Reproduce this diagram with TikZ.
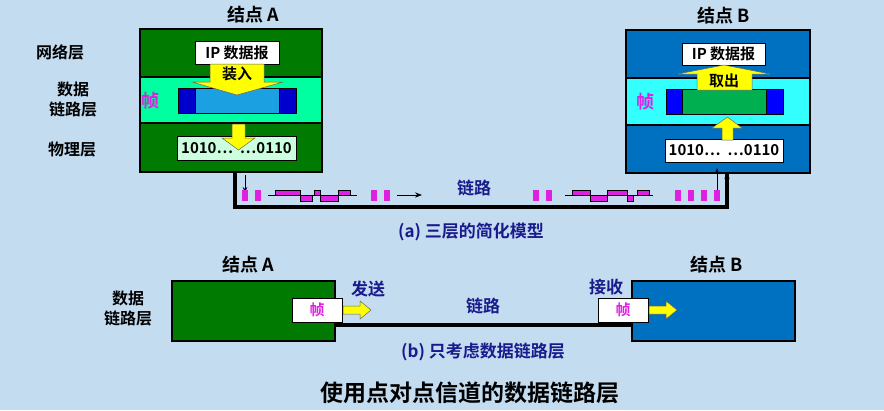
\documentclass[tikz,border=0pt]{standalone}
\usepackage{fontspec}
\setmainfont{Noto Sans CJK SC}[BoldFont={* Bold}]
\usetikzlibrary{arrows.meta}
\definecolor{bg}{HTML}{C3DCF0}
\definecolor{dg}{HTML}{007A00}
\definecolor{lg}{HTML}{00FFA0}
\definecolor{db}{HTML}{0070C0}
\definecolor{cy}{HTML}{33FFFF}
\definecolor{nb}{HTML}{1A1A8C}
\definecolor{mg}{HTML}{E020E0}
\definecolor{fb}{HTML}{1BA1E2}
\definecolor{gr}{HTML}{00B050}
\definecolor{yl}{HTML}{FFFF00}
\definecolor{bits}{HTML}{CCFFE0}
\tikzset{
 lbl/.style={font=\bfseries\fontsize{18}{20}\selectfont},
 side/.style={font=\bfseries\fontsize{16}{20}\selectfont, align=center, inner sep=0},
 blu/.style={font=\bfseries\fontsize{17}{19}\selectfont, text=nb},
 fr/.style={font=\bfseries\fontsize{18}{20}\selectfont, text=mg},
 wbox/.style={draw=black, line width=1pt, fill=white, inner sep=0, font=\bfseries\fontsize{15}{17}\selectfont},
 lay/.style={draw=black, line width=1.5pt},
 yarr/.style={draw=black!60, fill=yl, line width=0.5pt},
 pls/.style={fill=mg},
}
\begin{document}
\begin{tikzpicture}[x=1pt,y=-1pt]
\useasboundingbox[fill=bg] (0,0) rectangle (884,410);
% Node A
\draw[lay,fill=dg] (140,29) rectangle (322,77);
\draw[lay,fill=lg] (140,77) rectangle (322,123);
\draw[lay,fill=dg] (140,123) rectangle (322,172);
\node[wbox, minimum width=84, minimum height=23] (ipa) at (237,52.5) {IP 数据报};
\draw[fill=fb,draw=black,line width=1pt] (178,88) rectangle (296,113);
\draw[fill=blue!80!black,draw=black,line width=1pt] (178,88) rectangle (195,113) (279,88) rectangle (296,113);
\draw[yarr] (210,64) -- (264,64) -- (264,82) -- (283,82) -- (237,95) -- (192,82) -- (210,82) -- cycle;
\node[font=\bfseries\fontsize{15}{17}\selectfont] (zr) at (237,74) {装入};
\node[fr] (fa) at (150,101) {帧};
\node[wbox, fill=bits, minimum width=119, minimum height=24] (ba) at (236.5,148) {1010…\ \ …0110};
\draw[yarr] (232,124) -- (245,124) -- (245,138) -- (255,138) -- (238.5,150) -- (222,138) -- (232,138) -- cycle;
\node[lbl] (na) at (253,15) {结点 A};
\node[side] (l1) at (60,52) {网络层};
\node[side] (l2) at (73,100) {数据\\链路层};
\node[side] (l3) at (72,150) {物理层};
% Node B
\draw[lay,fill=db] (626,30) rectangle (810,78);
\draw[lay,fill=cy] (626,78) rectangle (810,125);
\draw[lay,fill=db] (626,125) rectangle (810,173);
\node[wbox, minimum width=83, minimum height=22] (ipb) at (723.5,54) {IP 数据报};
\draw[fill=gr,draw=black,line width=1pt] (666,89) rectangle (783,114);
\draw[fill=blue,draw=black,line width=1pt] (666,89) rectangle (682,114) (766,89) rectangle (783,114);
\draw[yarr] (697,90) -- (752,90) -- (752,74) -- (770,74) -- (724,65) -- (678,74) -- (697,74) -- cycle;
\node[font=\bfseries\fontsize{15}{17}\selectfont] (qc) at (724,81) {取出};
\node[fr] (fb2) at (645,102) {帧};
\node[wbox, minimum width=118, minimum height=23] (bb) at (724,150.5) {1010…\ \ …0110};
\draw[yarr] (722,140) -- (733,140) -- (733,128) -- (742,128) -- (727.5,117) -- (712,128) -- (722,128) -- cycle;
\node[lbl] (nb) at (724,16) {结点 B};
% link
\coordinate (s) at (235,172);
\coordinate (e) at (727,173);
\draw[line width=3.5pt] (s) |- (727,207) -- (e);
\draw[-{Stealth[length=6pt]},line width=1pt] (245,175) -- (245,193);
\draw[-{Stealth[length=6pt]},line width=1pt] (717,190) -- (717,168);
\draw[-{Stealth[length=7pt]},line width=1.5pt] (727,190) -- (727,172);
\foreach \x in {242,255,371,384,533,546,675,688,701,714} \fill[pls] (\x,190) rectangle ++(6,11);
\draw[line width=1pt] (268,195.5) -- (357,195.5);
\draw[fill=mg,line width=0.5pt] (275,190) rectangle (300,195.5) (300,195.5) rectangle (312,201) (314,190) rectangle (320,195.5) (320,195.5) rectangle (338,201) (338,190) rectangle (350,195.5);
\draw[-{Stealth[length=7pt]},line width=1pt] (397,195) -- (422,195);
\draw[line width=1pt] (565,195.5) -- (653,195.5);
\draw[fill=mg,line width=0.5pt] (572,190) rectangle (590,195.5) (590,195.5) rectangle (607,201) (607,190) rectangle (627,195.5) (627,195.5) rectangle (633,201) (637,190) rectangle (649,195.5);
\node[blu] (lk) at (474,188) {链路};
\node[blu] (ca) at (471,232) {(a) 三层的简化模型};
% bottom
\draw[lay,fill=dg] (172,281) rectangle (335,341);
\draw[lay,fill=db] (632,281) rectangle (795,341);
\draw[line width=4pt] (335,325) -- (632,325);
\node[wbox, minimum width=50, minimum height=24] (fra) at (317,310) {\textcolor{mg}{帧}};
\node[wbox, minimum width=50, minimum height=24] (frb) at (623,310) {\textcolor{mg}{帧}};
\draw[yarr] (343,306) -- (360,306) -- (360,301) -- (371,310) -- (360,319) -- (360,314) -- (343,314) -- cycle;
\draw[yarr] (649,306) -- (666,306) -- (666,301) -- (677,310) -- (666,319) -- (666,314) -- (649,314) -- cycle;
\node[blu] (fs) at (368,289) {发送};
\node[blu] (js) at (606,287) {接收};
\node[blu] (lk2) at (483,306) {链路};
\node[lbl] (na2) at (248,265) {结点 A};
\node[lbl] (nb2) at (717,265) {结点 B};
\node[side] (dl) at (128,309) {数据\\链路层};
\node[blu] (cb) at (483,352) {(b) 只考虑数据链路层};
\node[font=\bfseries\fontsize{23}{25}\selectfont] (tt) at (470,393) {使用点对点信道的数据链路层};
\end{tikzpicture}
\end{document}
